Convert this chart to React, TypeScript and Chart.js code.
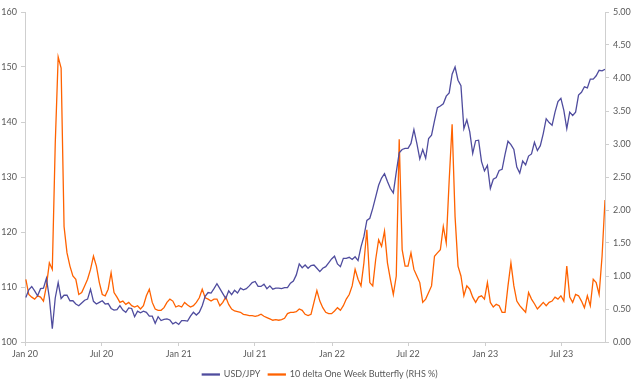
import React, { useEffect, useRef } from "react";
import { Chart, registerables } from "chart.js";

Chart.register(...registerables);

// Weekly observations (Fridays), x = days since 1 Jan 2020
const firstDay = 2; // 3 Jan 2020
const weekStep = 7;
const lastDay = 1381; // 13 Oct 2023

const tickDays = [0, 182, 366, 547, 731, 912, 1096, 1277];
const tickLabels = ["Jan 20", "Jul 20", "Jan 21", "Jul 21", "Jan 22", "Jul 22", "Jan 23", "Jul 23"];

const usdJpy2020 = [
  108.1, 109.5, 110.1, 109.3, 108.4, 109.7, 109.8, 111.6, 108.0, 102.4, 108.0, 110.8, 107.9,
  108.5, 108.5, 107.5, 107.5, 106.9, 106.6, 107.1, 107.6, 107.8, 109.6, 107.4, 106.9, 107.2,
  107.5, 106.9, 107.0, 106.1, 105.8, 105.9, 106.6, 105.8, 105.4, 106.2, 106.1, 104.6, 105.6,
  105.3, 105.6, 105.4, 104.7, 104.7, 103.4, 104.6, 103.9, 104.1, 104.2, 104.0, 103.3, 103.6,
];
const usdJpy2021 = [
  103.2, 103.9, 103.9, 103.8, 104.7, 105.4, 104.9, 105.4, 106.6, 108.3, 109.0, 108.9, 109.7,
  110.6, 109.7, 108.8, 107.9, 109.3, 108.6, 109.4, 108.9, 109.8, 109.5, 109.7, 110.2, 110.8,
  111.0, 110.1, 110.1, 110.5, 109.7, 110.2, 109.6, 109.8, 109.8, 109.7, 109.9, 109.9, 110.7,
  111.1, 112.2, 114.2, 113.5, 114.0, 113.4, 113.9, 114.0, 113.4, 112.8, 113.4, 113.7, 114.4, 115.1,
];
const usdJpy2022 = [
  115.6, 114.2, 113.7, 115.2, 115.2, 115.4, 115.0, 115.5, 114.8, 117.3, 119.2, 122.1,
  122.5, 124.3, 126.4, 128.5, 129.8, 130.6, 129.2, 127.9, 127.1, 130.9, 134.4, 135.0, 135.2,
  135.2, 136.1, 138.6, 136.1, 133.3, 135.0, 133.4, 137.0, 137.6, 140.2, 142.6, 142.9, 143.3,
  144.7, 145.3, 148.7, 150.0, 147.6, 146.6, 138.8, 140.4, 138.2, 134.3, 136.6, 136.7, 132.8, 131.1,
];
const usdJpy2023 = [
  132.1, 127.9, 129.6, 129.9, 131.2, 131.4, 134.1, 136.5, 135.9, 135.0, 131.8, 130.7, 132.9,
  132.2, 133.8, 134.2, 136.3, 134.8, 135.7, 137.9, 140.6, 139.9, 139.4, 141.8, 143.7, 144.3,
  142.1, 138.8, 141.8, 141.2, 141.8, 144.9, 145.4, 146.4, 146.2, 147.8, 147.8, 148.4, 149.4,
  149.3, 149.6,
];

const butterfly2020 = [
  0.95, 0.72, 0.68, 0.65, 0.7, 0.68, 0.62, 0.85, 1.2, 1.1, 3.0, 4.32, 4.15,
  1.75, 1.35, 1.15, 1.0, 0.95, 0.72, 0.75, 0.85, 0.95, 1.1, 1.3, 1.15, 0.9,
  0.72, 0.7, 0.8, 1.05, 0.75, 0.68, 0.6, 0.62, 0.57, 0.6, 0.55, 0.53, 0.55,
  0.5, 0.55, 0.7, 0.8, 0.6, 0.5, 0.48, 0.48, 0.52, 0.6, 0.65, 0.62, 0.53,
];
const butterfly2021 = [
  0.55, 0.53, 0.6, 0.56, 0.53, 0.55, 0.6, 0.67, 0.8, 0.67, 0.65, 0.62, 0.65,
  0.65, 0.55, 0.6, 0.68, 0.57, 0.5, 0.47, 0.46, 0.45, 0.42, 0.41, 0.4, 0.4,
  0.39, 0.4, 0.42, 0.39, 0.37, 0.35, 0.33, 0.34, 0.33, 0.34, 0.36, 0.43, 0.45,
  0.45, 0.46, 0.5, 0.48, 0.42, 0.4, 0.42, 0.6, 0.78, 0.62, 0.52, 0.45, 0.43, 0.43,
];
const butterfly2022 = [
  0.47, 0.52, 0.48, 0.55, 0.65, 0.72, 0.85, 1.1, 0.95, 0.85, 1.2, 1.7,
  0.9, 0.85, 1.25, 1.55, 1.45, 1.68, 1.2, 0.95, 0.72, 1.0, 3.07, 1.4, 1.15,
  1.15, 1.35, 1.1, 1.0, 0.9, 0.6, 0.65, 0.75, 0.85, 1.3, 1.35, 1.4, 1.75,
  1.5, 2.45, 3.3, 1.9, 1.15, 1.0, 0.7, 0.85, 0.8, 0.68, 0.6, 0.68, 0.7, 0.65,
];
const butterfly2023 = [
  0.9, 0.6, 0.53, 0.57, 0.55, 0.45, 0.45, 0.85, 1.2, 0.85, 0.62, 0.55, 0.5,
  0.45, 0.75, 0.65, 0.58, 0.5, 0.55, 0.6, 0.55, 0.6, 0.62, 0.68, 0.65, 0.7,
  0.62, 1.15, 0.68, 0.6, 0.72, 0.7, 0.62, 0.52, 0.7, 0.55, 0.95, 0.9, 0.72,
  1.3, 2.15,
];

const usdJpy = [...usdJpy2020, ...usdJpy2021, ...usdJpy2022, ...usdJpy2023];
const butterfly = [...butterfly2020, ...butterfly2021, ...butterfly2022, ...butterfly2023];
const weekDays = usdJpy.map((_, i) => firstDay + i * weekStep);

const seriesNames = ["USD/JPY", "10 delta One Week Butterfly (RHS %)"];

const BLUE = "#4F4C9E";
const ORANGE = "#FF6200";
const AXIS = "#cfcfcf";
const TEXT = "#595959";
const FONT = "Lato, 'Open Sans', sans-serif";

export default function App() {
  const ref = useRef<HTMLCanvasElement | null>(null);
  useEffect(() => {
    if (!ref.current) return;
    const legendHeight = {
      id: "legendHeight",
      beforeInit(chart: any) {
        const lg = chart.legend;
        if (!lg) return;
        const orig = lg.fit.bind(lg);
        lg.fit = function () {
          orig();
          this.height = 22;
        };
      },
    };
    const chart = new Chart(ref.current, {
      type: "line",
      data: {
        datasets: [
          {
            label: seriesNames[0],
            data: usdJpy.map((v, i) => ({ x: weekDays[i], y: v })),
            borderColor: BLUE,
            backgroundColor: BLUE,
            borderWidth: 1.3,
            yAxisID: "y",
          },
          {
            label: seriesNames[1],
            data: butterfly.map((v, i) => ({ x: weekDays[i], y: v })),
            borderColor: ORANGE,
            backgroundColor: ORANGE,
            borderWidth: 1.3,
            yAxisID: "y1",
          },
        ],
      },
      options: {
        animation: false,
        responsive: true,
        maintainAspectRatio: false,
        layout: { padding: { top: 12, left: 0, right: 0, bottom: 0 } },
        elements: { point: { radius: 0 }, line: { tension: 0 } },
        plugins: {
          legend: {
            position: "bottom",
            labels: {
              boxWidth: 17,
              boxHeight: 1,
              padding: 8,
              color: TEXT,
              font: { family: FONT, size: 9 },
            },
          },
          tooltip: { enabled: false },
        },
        scales: {
          x: {
            type: "linear",
            min: 0,
            max: lastDay,
            grid: { display: true, drawOnChartArea: false, drawTicks: true, tickLength: 4, color: AXIS },
            border: { color: AXIS },
            ticks: {
              autoSkip: false,
              maxRotation: 0,
              padding: 3,
              color: TEXT,
              font: { family: FONT, size: 9 },
              callback: (v: any) => {
                const k = tickDays.indexOf(Number(v));
                return k >= 0 ? tickLabels[k] : "";
              },
            },
            afterBuildTicks: (s: any) => {
              s.ticks = tickDays.map((v) => ({ value: v }));
            },
            afterFit: (s: any) => {
              s.height = 20;
            },
          },
          y: {
            position: "left",
            min: 100,
            max: 160,
            grid: { display: true, drawOnChartArea: false, drawTicks: true, tickLength: 4, color: AXIS },
            border: { color: AXIS },
            ticks: { stepSize: 10, padding: 4, color: TEXT, font: { family: FONT, size: 9 } },
            afterFit: (s: any) => {
              s.width = 25;
            },
          },
          y1: {
            position: "right",
            min: 0,
            max: 5,
            grid: { display: true, drawOnChartArea: false, drawTicks: true, tickLength: 4, color: AXIS },
            border: { color: AXIS },
            ticks: {
              stepSize: 0.5,
              padding: 4,
              color: TEXT,
              font: { family: FONT, size: 9 },
              callback: (v: any) => Number(v).toFixed(2),
            },
            afterFit: (s: any) => {
              s.width = 35;
            },
          },
        },
      },
      plugins: [legendHeight],
    } as any);
    return () => chart.destroy();
  }, []);
  return (
    <div style={{ position: "absolute", left: 0, top: 0, width: 640, height: 384, background: "#fff" }}>
      <canvas ref={ref} />
    </div>
  );
}
